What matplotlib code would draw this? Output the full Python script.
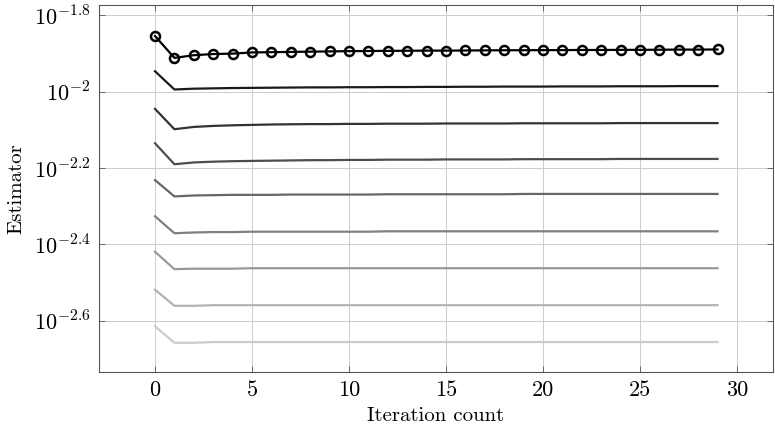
import matplotlib
matplotlib.use("Agg")
import matplotlib.pyplot as plt
import numpy as np
from matplotlib.ticker import FixedLocator, NullLocator

plt.rcParams['font.family'] = 'serif'
plt.rcParams['font.serif'] = ['cmr10', 'DejaVu Serif']
plt.rcParams['mathtext.fontset'] = 'cm'
plt.rcParams['axes.unicode_minus'] = False
plt.rcParams['axes.formatter.use_mathtext'] = True

# iteration count
iterations = np.arange(30)

# estimator with markers (top curve)
est_marked = [1.400e-2, 1.227e-2, 1.247e-2, 1.256e-2, 1.259e-2, 1.268e-2,
              1.270e-2, 1.272e-2, 1.274e-2, 1.276e-2, 1.278e-2, 1.279e-2,
              1.280e-2, 1.281e-2, 1.282e-2, 1.282e-2, 1.283e-2, 1.284e-2,
              1.285e-2, 1.285e-2, 1.286e-2, 1.286e-2, 1.287e-2, 1.287e-2,
              1.288e-2, 1.288e-2, 1.289e-2, 1.290e-2, 1.290e-2, 1.291e-2]

# other estimators, dark to light (values in units of 1e-3)
est_a = [11.32, 10.14, 10.19, 10.21, 10.23, 10.24, 10.25, 10.26, 10.27, 10.27,
         10.28, 10.28, 10.29, 10.29, 10.30, 10.30, 10.31, 10.31, 10.32, 10.32,
         10.32, 10.33, 10.33, 10.33, 10.34, 10.34, 10.34, 10.35, 10.35, 10.35]
est_b = [9.02, 7.98, 8.09, 8.14, 8.17, 8.19, 8.21, 8.22, 8.23, 8.23,
         8.24, 8.24, 8.25, 8.25, 8.25, 8.26, 8.26, 8.26, 8.26, 8.27,
         8.27, 8.27, 8.27, 8.27, 8.28, 8.28, 8.28, 8.28, 8.28, 8.28]
est_c = [7.33, 6.46, 6.53, 6.56, 6.58, 6.59, 6.60, 6.61, 6.62, 6.62,
         6.63, 6.63, 6.64, 6.64, 6.64, 6.65, 6.65, 6.65, 6.65, 6.66,
         6.66, 6.66, 6.66, 6.66, 6.67, 6.67, 6.67, 6.67, 6.67, 6.67]
est_d = [5.87, 5.32, 5.35, 5.36, 5.37, 5.37, 5.37, 5.38, 5.38, 5.38,
         5.38, 5.38, 5.39, 5.39, 5.39, 5.39, 5.39, 5.39, 5.39, 5.40,
         5.40, 5.40, 5.40, 5.40, 5.40, 5.40, 5.40, 5.40, 5.40, 5.40]
est_e = [4.72, 4.26, 4.28, 4.29, 4.29, 4.30, 4.30, 4.30, 4.30, 4.30,
         4.30, 4.30, 4.31, 4.31, 4.31, 4.31, 4.31, 4.31, 4.31, 4.31,
         4.31, 4.31, 4.31, 4.31, 4.31, 4.31, 4.31, 4.31, 4.31, 4.31]
est_f = [3.81, 3.43, 3.44, 3.44, 3.44, 3.45, 3.45, 3.45, 3.45, 3.45,
         3.45, 3.45, 3.45, 3.45, 3.45, 3.45, 3.45, 3.45, 3.45, 3.45,
         3.45, 3.45, 3.45, 3.45, 3.45, 3.45, 3.45, 3.45, 3.45, 3.45]
est_g = [3.03, 2.75, 2.75, 2.76, 2.76, 2.76, 2.76, 2.76, 2.76, 2.76,
         2.76, 2.76, 2.76, 2.76, 2.76, 2.76, 2.76, 2.76, 2.76, 2.76,
         2.76, 2.76, 2.76, 2.76, 2.76, 2.76, 2.76, 2.76, 2.76, 2.76]
est_h = [2.43, 2.20, 2.20, 2.21, 2.21, 2.21, 2.21, 2.21, 2.21, 2.21,
         2.21, 2.21, 2.21, 2.21, 2.21, 2.21, 2.21, 2.21, 2.21, 2.21,
         2.21, 2.21, 2.21, 2.21, 2.21, 2.21, 2.21, 2.21, 2.21, 2.21]

other_series = [est_a, est_b, est_c, est_d, est_e, est_f, est_g, est_h]
grays = ['#1a1a1a', '#333333', '#4d4d4d', '#666666',
         '#808080', '#999999', '#b3b3b3', '#cccccc']

ytick_exps = [-1.8, -2.0, -2.2, -2.4, -2.6]
ytick_labels = [r'$10^{-1.8}$', r'$10^{-2}$', r'$10^{-2.2}$', r'$10^{-2.4}$', r'$10^{-2.6}$']
xticks = [0, 5, 10, 15, 20, 25, 30]

fig = plt.figure(figsize=(7.75, 4.3), dpi=100)
ax = fig.add_axes([0.1277, 0.135, 0.8697, 0.853])

for vals, col in zip(other_series, grays):
    ax.plot(iterations, np.array(vals) * 1e-3, color=col, lw=1.6)

ax.plot(iterations, est_marked, color='black', lw=1.6, marker='o',
        markersize=6.5, markerfacecolor='none', markeredgewidth=1.8)

ax.set_yscale('log')
ax.set_xlim(-2.89, 31.86)
ax.set_ylim(10 ** -2.734, 10 ** -1.773)
ax.yaxis.set_major_locator(FixedLocator([10 ** e for e in ytick_exps]))
ax.yaxis.set_minor_locator(NullLocator())
ax.set_yticklabels(ytick_labels)
ax.set_xticks(xticks)
ax.set_xticklabels([str(t) for t in xticks])

ax.grid(True, color='#cccccc', lw=0.7)
ax.set_axisbelow(True)
for s in ax.spines.values():
    s.set_color('#555555')
    s.set_linewidth(0.8)
ax.tick_params(direction='in', length=4, width=0.6, color='#555555',
               labelsize=16, top=True, right=True, pad=6)

ax.set_xlabel('Iteration count', fontsize=15, labelpad=5)
ax.set_ylabel('Estimator', fontsize=15, labelpad=6)

fig.savefig('out.png', dpi=100)
